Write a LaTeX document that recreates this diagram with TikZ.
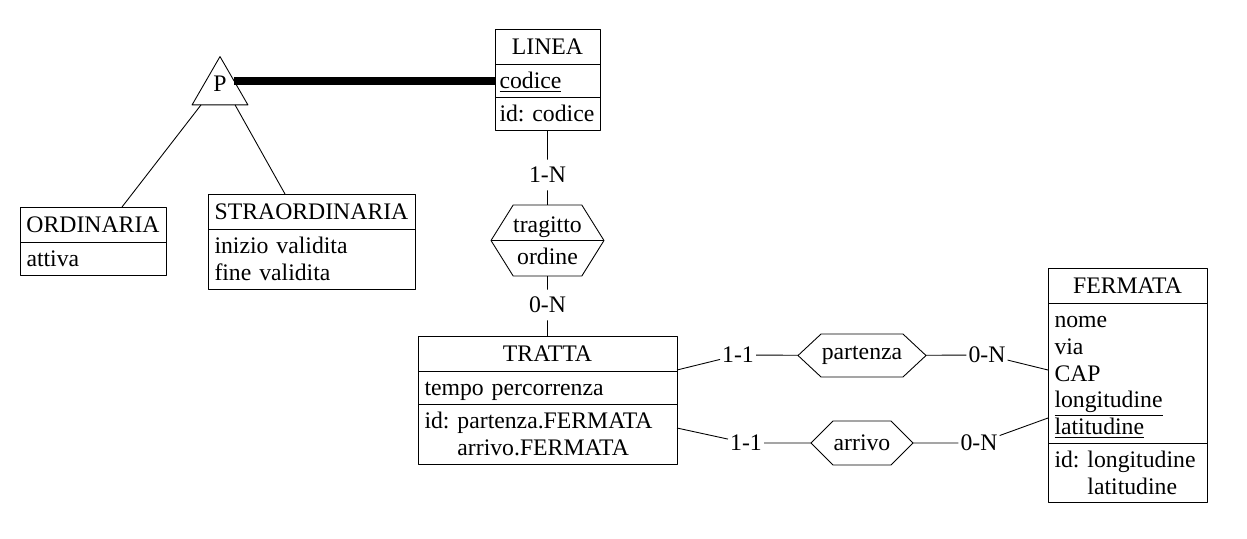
\documentclass[tikz,border=0pt]{standalone}
\usepackage{fontspec}
\setmainfont{Liberation Serif}
\frenchspacing
\usetikzlibrary{shapes.multipart,shapes.geometric,shapes.symbols,calc}
\newcommand{\st}{\rule[-3.2pt]{0pt}{15.2pt}}
\newcommand{\tl}[1]{\centerline{\rule[-4pt]{0pt}{16.7pt}#1}}
\newcommand{\idf}[1]{\smash{\underline{#1}}}
\begin{document}
\begin{tikzpicture}[line join=round,line width=0.5pt,font=\fontsize{13.5}{15.2}\selectfont,
ent/.style={draw,rectangle split,rectangle split parts=#1,anchor=north,align=left,inner xsep=0.13cm,inner ysep=1.5pt,outer sep=0pt},
rel/.style={draw,signal,signal to=west and east,align=center,inner sep=0pt,outer sep=0pt},
card/.style={inner xsep=1pt,inner ysep=4pt},
gen/.style={line width=4.5pt}]
\useasboundingbox (0,0) rectangle (24.94,-10.76);
\node[ent=3,text width=1.92cm,inner xsep=0.09cm] (linea) at (10.95,-0.58) {\tl{LINEA}
\nodepart{two}\st\idf{codice}
\nodepart{three}\st id: codice};
\node[ent=2,text width=2.66cm] (ordinaria) at (1.86,-4.14) {\tl{ORDINARIA}
\nodepart{two}\st attiva};
\node[ent=2,text width=3.88cm] (straord) at (6.23,-3.88) {\tl{STRAORDINARIA}
\nodepart{two}\st inizio validita\\\st fine validita};
\node[ent=3,text width=4.92cm] (tratta) at (10.95,-6.72) {\tl{TRATTA}
\nodepart{two}\st tempo percorrenza
\nodepart{three}\st id: partenza.FERMATA\\\st\phantom{id: }arrivo.FERMATA};
\node[ent=3,text width=2.92cm] (fermata) at (22.55,-5.36) {\tl{FERMATA}
\nodepart{two}\st nome\\\st via\\\st CAP\\\st\idf{longitudine}\\\st\idf{latitudine}
\nodepart{three}\st id: longitudine\\\st\phantom{id: }latitudine};
\node[rel,signal pointer angle=116,minimum width=2.26cm,minimum height=1.42cm] (tragitto) at (10.95,-4.81) {tragitto\\[3pt]ordine};
\draw (tragitto.west) -- (tragitto.east);
\node[rel,signal pointer angle=86,minimum width=2.56cm,minimum height=0.86cm] (partenza) at (17.24,-7.11) {partenza};
\node[rel,signal pointer angle=90,minimum width=2.04cm,minimum height=0.88cm] (arrivo) at (17.24,-8.86) {arrivo};
\node[draw,regular polygon,regular polygon sides=3,minimum size=1.29cm,inner sep=0pt,outer sep=0pt,label={[yshift=0.1cm]center:P}] (p) at (4.4,-1.776) {};
\draw[gen] (p.side 3) -- (p.side 3 -| linea.west);
\draw ($(p.corner 2)!0.16!(p.corner 3)$) -- ([xshift=0.58cm]ordinaria.north);
\draw ($(p.corner 2)!0.77!(p.corner 3)$) -- ([xshift=-0.53cm]straord.north);
\node[card] (k1) at (10.95,-3.5) {1-N};
\node[card] (k2) at (10.95,-6.1) {0-N};
\node[card] (k3) at (14.76,-7.1) {1-1};
\node[card] (k4) at (19.74,-7.1) {0-N};
\node[card] (k5) at (14.92,-8.86) {1-1};
\node[card] (k6) at (19.58,-8.86) {0-N};
\draw (linea) -- (k1) (k1) -- (tragitto);
\draw (tragitto) -- (k2) (k2) -- (tratta);
\draw ([yshift=-0.68cm]tratta.north east) -- (k3) (k3) -- (partenza) (partenza) -- (k4) (k4) -- ([yshift=-2.04cm]fermata.north west);
\draw ([yshift=-1.84cm]tratta.north east) -- (k5) (k5) -- (arrivo) (arrivo) -- (k6) (k6) -- ([yshift=-3cm]fermata.north west);
\end{tikzpicture}
\end{document}
